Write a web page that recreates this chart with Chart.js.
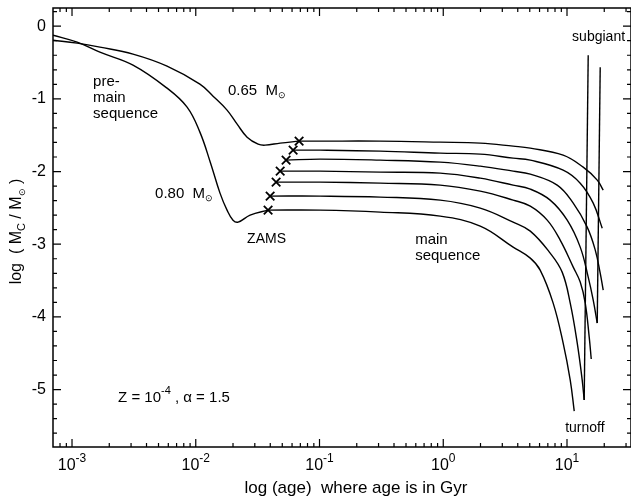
<!DOCTYPE html>
<html>
<head>
<meta charset="utf-8">
<script src="https://cdn.jsdelivr.net/npm/chart.js@4.4.1/dist/chart.umd.min.js"></script>
<style>
html, body { margin: 0; padding: 0; background: #fff; }
#wrap { width: 631px; height: 501px; }
</style>
</head>
<body>
<div id="wrap"><canvas id="chart"></canvas></div>
<script>
// ages in Gyr, values are log(Mc/Msun)
const pms065Age = [7.02e-4, 1.10e-3, 1.68e-3, 3.11e-3, 5.86e-3, 1.08e-2, 1.38e-2, 1.79e-2, 2.16e-2, 2.60e-2, 3.19e-2, 3.63e-2, 4.81e-2, 6.84e-2];
const pms065Y   = [-0.193, -0.234, -0.289, -0.385, -0.550, -0.798, -0.963, -1.155, -1.348, -1.527, -1.623, -1.637, -1.609, -1.582];

const pms080Age = [7.02e-4, 1.10e-3, 1.68e-3, 3.11e-3, 5.86e-3, 8.51e-3, 1.08e-2, 1.31e-2, 1.57e-2, 1.79e-2, 2.00e-2, 2.20e-2, 2.75e-2, 3.84e-2];
const pms080Y   = [-0.124, -0.220, -0.358, -0.536, -0.853, -1.114, -1.458, -1.871, -2.297, -2.531, -2.669, -2.696, -2.600, -2.531];

// main sequence tracks, top (0.65) to bottom (0.80)
const ms1Age = [6.84e-2, 0.101, 0.309, 0.944, 1.99, 3.67, 5.05, 9.31, 13.52, 17.55, 19.62];
const ms1Y   = [-1.582, -1.582, -1.582, -1.596, -1.609, -1.651, -1.678, -1.774, -1.940, -2.118, -2.256];
const ms2Age = [6.12e-2, 0.101, 0.309, 0.944, 1.99, 3.67, 5.05, 9.31, 12.79, 16.29, 19.26];
const ms2Y   = [-1.706, -1.706, -1.719, -1.747, -1.761, -1.816, -1.843, -1.981, -2.160, -2.435, -2.779];
const ms3Age = [5.37e-2, 0.101, 0.309, 0.944, 1.99, 3.67, 5.05, 8.33, 11.23, 14.56, 16.92, 18.55, 19.62];
const ms3Y   = [-1.843, -1.829, -1.843, -1.871, -1.926, -1.995, -2.036, -2.187, -2.435, -2.765, -3.081, -3.398, -3.631];
const ms4Age = [4.81e-2, 0.101, 0.309, 0.944, 1.99, 3.67, 5.05, 7.31, 10.04, 12.79, 14.84, 16.29, 17.55];
const ms4Y   = [-1.995, -1.995, -2.008, -2.022, -2.091, -2.187, -2.242, -2.393, -2.669, -3.040, -3.453, -3.769, -4.085];
const ms5Age = [4.46e-2, 0.101, 0.309, 0.944, 1.99, 3.67, 5.05, 6.92, 8.81, 11.23, 12.79, 14.04, 15.12, 15.70];
const ms5Y   = [-2.146, -2.146, -2.160, -2.187, -2.270, -2.393, -2.476, -2.669, -2.944, -3.315, -3.521, -3.810, -4.278, -4.580];
const ms6Age = [3.99e-2, 0.101, 0.309, 0.944, 1.99, 3.67, 5.05, 7.31, 9.14, 10.62, 12.10, 13.27, 13.77];
const ms6Y   = [-2.338, -2.338, -2.352, -2.393, -2.503, -2.696, -2.820, -3.122, -3.384, -3.810, -4.360, -4.869, -5.144];
const ms7Age = [3.84e-2, 0.101, 0.309, 0.944, 1.99, 3.67, 5.05, 6.07, 7.73, 9.31, 10.62, 11.44];
const ms7Y   = [-2.531, -2.531, -2.558, -2.613, -2.751, -3.040, -3.191, -3.356, -3.810, -4.360, -4.869, -5.296];

// subgiant branches rising from the turnoff dips
const sub4Age = [17.55, 18.55];
const sub4Y   = [-4.085, -0.564];
const sub6Age = [13.77, 14.84];
const sub6Y   = [-5.144, -0.399];

// zero-age main sequence points
const zamsAge = [6.84e-2, 6.12e-2, 5.37e-2, 4.81e-2, 4.46e-2, 3.99e-2, 3.84e-2];
const zamsY   = [-1.582, -1.706, -1.843, -1.995, -2.146, -2.338, -2.531];

const xDecades = [-3, -2, -1, 0, 1];
const yLabels = [0, -1, -2, -3, -4, -5];

const FONT = "'Liberation Sans', Arial, Helvetica, sans-serif";

const notes = [
    { x: 1.48e-3, y: -0.825, parts: [{ t: 'pre-' }] },
    { x: 1.48e-3, y: -1.045, parts: [{ t: 'main' }] },
    { x: 1.48e-3, y: -1.265, parts: [{ t: 'sequence' }] },
    { x: 0.0182, y: -0.949, parts: [{ t: '0.65  M' }, { t: '\u2299', size: 9, dy: 3 }] },
    { x: 4.69e-3, y: -2.366, parts: [{ t: '0.80  M' }, { t: '\u2299', size: 9, dy: 3 }] },
    { x: 0.026, y: -2.985, parts: [{ t: 'ZAMS', size: 14 }] },
    { x: 0.593, y: -2.999, parts: [{ t: 'main' }] },
    { x: 0.593, y: -3.219, parts: [{ t: 'sequence' }] },
    { x: 11.0, y: -0.206, parts: [{ t: 'subgiant', size: 14 }] },
    { x: 9.66, y: -5.585, parts: [{ t: 'turnoff', size: 14 }] },
    { x: 2.355e-3, y: -5.172, parts: [{ t: 'Z = 10' }, { t: '-4', size: 11, dy: -8 }, { t: ' , \u03b1 = 1.5' }] }
];

function pts(ages, ys) {
    return ages.map((a, i) => ({ x: a, y: ys[i] }));
}

function track(ages, ys) {
    return {
        data: pts(ages, ys),
        showLine: true,
        borderColor: '#000',
        borderWidth: 1.4,
        pointRadius: 0,
        tension: 0.4
    };
}

function straight(ages, ys) {
    return {
        data: pts(ages, ys),
        showLine: true,
        borderColor: '#000',
        borderWidth: 1.4,
        pointRadius: 0,
        tension: 0
    };
}

function drawRich(ctx, x, y, parts, baseSize) {
    let cx = x;
    parts.forEach(p => {
        const size = p.size || baseSize;
        ctx.font = size + 'px ' + FONT;
        ctx.fillText(p.t, cx, y + (p.dy || 0));
        cx += ctx.measureText(p.t).width;
    });
}

function richWidth(ctx, parts, baseSize) {
    let w = 0;
    parts.forEach(p => {
        ctx.font = (p.size || baseSize) + 'px ' + FONT;
        w += ctx.measureText(p.t).width;
    });
    return w;
}

function noPadding(scale) {
    scale.paddingTop = 0;
    scale.paddingBottom = 0;
    scale.paddingLeft = 0;
    scale.paddingRight = 0;
}

const frameAndText = {
    id: 'frameAndText',
    afterDraw(chart) {
        const ctx = chart.ctx;
        const { left, right, top, bottom } = chart.chartArea;
        const xs = chart.scales.x;
        const ys = chart.scales.y;
        ctx.save();
        ctx.strokeStyle = '#000';
        ctx.fillStyle = '#000';

        ctx.lineWidth = 1.5;
        ctx.strokeRect(left, top, right - left, bottom - top);

        ctx.lineWidth = 1.2;
        ctx.beginPath();
        for (let e = -4; e <= 2; e++) {
            for (let m = 1; m <= 9; m++) {
                const v = m * Math.pow(10, e);
                if (v < xs.min || v > xs.max) continue;
                const px = xs.getPixelForValue(v);
                const len = m === 1 ? 8 : 4;
                ctx.moveTo(px, bottom); ctx.lineTo(px, bottom - len);
                ctx.moveTo(px, top); ctx.lineTo(px, top + len);
            }
        }
        for (let k = -30; k <= 1; k++) {
            const v = k * 0.2;
            if (v < ys.min || v > ys.max) continue;
            const py = ys.getPixelForValue(v);
            const len = k % 5 === 0 ? 8 : 4;
            ctx.moveTo(left, py); ctx.lineTo(left + len, py);
            ctx.moveTo(right, py); ctx.lineTo(right - len, py);
        }
        ctx.stroke();

        // x tick labels with superscript exponents
        ctx.textBaseline = 'alphabetic';
        ctx.textAlign = 'left';
        xDecades.forEach(e => {
            const px = xs.getPixelForValue(Math.pow(10, e));
            const parts = [{ t: '10' }, { t: String(e), size: 12, dy: -8 }];
            const w = richWidth(ctx, parts, 16);
            drawRich(ctx, px - w / 2, bottom + 23, parts, 16);
        });

        // x axis title
        ctx.font = '17px ' + FONT;
        ctx.textAlign = 'center';
        ctx.fillText('log (age)  where age is in Gyr', 356, bottom + 46);
        ctx.textAlign = 'left';

        // y axis title, rotated
        const yParts = [{ t: 'log  ( M' }, { t: 'C', size: 11, dy: 4 }, { t: ' / M' }, { t: '\u2299', size: 9, dy: 4 }, { t: ' )' }];
        const yw = richWidth(ctx, yParts, 16);
        ctx.save();
        ctx.translate(21, (top + bottom) / 2 + 4);
        ctx.rotate(-Math.PI / 2);
        drawRich(ctx, -yw / 2, 0, yParts, 16);
        ctx.restore();

        // annotations
        notes.forEach(n => {
            drawRich(ctx, xs.getPixelForValue(n.x), ys.getPixelForValue(n.y), n.parts, 15);
        });
        ctx.restore();
    }
};

new Chart(document.getElementById('chart'), {
    type: 'scatter',
    data: {
        datasets: [
            track(pms065Age, pms065Y),
            track(pms080Age, pms080Y),
            track(ms1Age, ms1Y),
            track(ms2Age, ms2Y),
            track(ms3Age, ms3Y),
            track(ms4Age, ms4Y),
            track(ms5Age, ms5Y),
            track(ms6Age, ms6Y),
            track(ms7Age, ms7Y),
            straight(sub4Age, sub4Y),
            straight(sub6Age, sub6Y),
            {
                data: pts(zamsAge, zamsY),
                showLine: false,
                pointStyle: 'crossRot',
                pointRadius: 6,
                borderColor: '#000',
                borderWidth: 1.8
            }
        ]
    },
    options: {
        responsive: true,
        maintainAspectRatio: false,
        animation: false,
        layout: { autoPadding: false, padding: { top: 8, right: 0, bottom: 0, left: 0 } },
        plugins: {
            legend: { display: false },
            tooltip: { enabled: false }
        },
        scales: {
            x: {
                type: 'logarithmic',
                min: 7.02e-4,
                max: 32.9,
                grid: { display: false, drawTicks: false },
                border: { display: false },
                ticks: { display: false },
                afterFit: scale => { scale.height = 54; noPadding(scale); }
            },
            y: {
                type: 'linear',
                min: -5.79,
                max: 0.25,
                grid: { display: false, drawTicks: false },
                border: { display: false },
                ticks: {
                    stepSize: 1,
                    includeBounds: false,
                    color: '#000',
                    padding: 7,
                    font: { family: FONT, size: 16 },
                    callback: v => yLabels.includes(v) ? String(v) : ''
                },
                afterFit: scale => { scale.width = 53; noPadding(scale); }
            }
        }
    },
    plugins: [frameAndText]
});
</script>
</body>
</html>
